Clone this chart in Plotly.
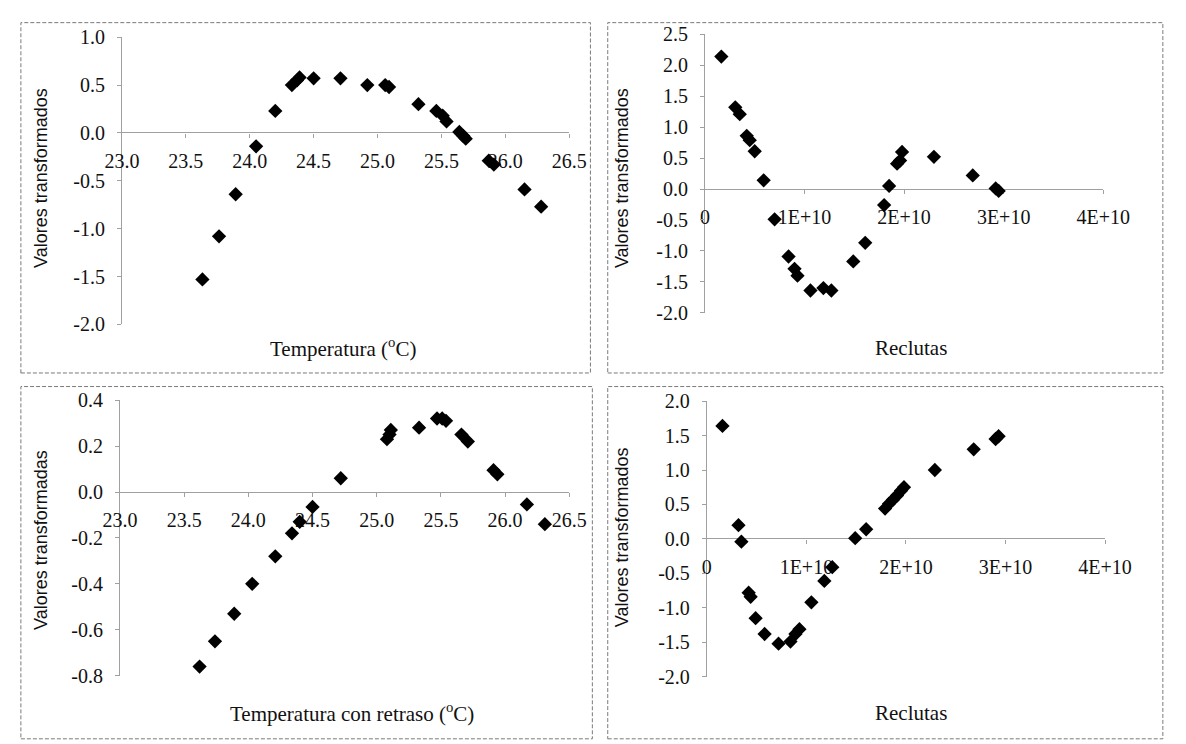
import plotly.graph_objects as go

W, H = 1186, 744

# ---------------- data ----------------
temp_tl = [23.63, 23.76, 23.89, 24.05, 24.20, 24.33, 24.37, 24.39, 24.50, 24.71, 24.92, 25.06,
           25.09, 25.32, 25.46, 25.51, 25.54, 25.64, 25.67, 25.69, 25.87, 25.91, 26.15, 26.28]
val_tl = [-1.53, -1.08, -0.64, -0.14, 0.23, 0.50, 0.55, 0.58, 0.57, 0.57, 0.50, 0.50,
          0.48, 0.30, 0.23, 0.18, 0.12, 0.01, -0.03, -0.06, -0.29, -0.33, -0.59, -0.77]

temp_bl = [23.62, 23.74, 23.89, 24.03, 24.21, 24.34, 24.40, 24.50, 24.72, 25.08, 25.10,
           25.11, 25.33, 25.47, 25.51, 25.54, 25.66, 25.71, 25.91, 25.94, 26.17, 26.31]
val_bl = [-0.76, -0.65, -0.53, -0.40, -0.28, -0.18, -0.13, -0.065, 0.06, 0.23, 0.25,
          0.27, 0.28, 0.32, 0.32, 0.31, 0.25, 0.22, 0.095, 0.077, -0.054, -0.14]

rec_tr = [0.165e10, 0.305e10, 0.35e10, 0.42e10, 0.45e10, 0.50e10, 0.59e10, 0.70e10, 0.84e10,
          0.90e10, 0.93e10, 1.06e10, 1.19e10, 1.27e10, 1.49e10, 1.61e10, 1.80e10, 1.85e10,
          1.93e10, 1.96e10, 1.98e10, 2.30e10, 2.69e10, 2.92e10, 2.95e10]
val_tr = [2.14, 1.32, 1.21, 0.86, 0.79, 0.61, 0.14, -0.49, -1.09, -1.29, -1.40, -1.64, -1.60,
          -1.64, -1.17, -0.87, -0.26, 0.05, 0.41, 0.46, 0.60, 0.52, 0.22, 0.01, -0.03]

rec_br = [0.157e10, 0.318e10, 0.347e10, 0.42e10, 0.44e10, 0.49e10, 0.58e10, 0.72e10, 0.84e10,
          0.89e10, 0.93e10, 1.05e10, 1.18e10, 1.26e10, 1.49e10, 1.60e10, 1.79e10, 1.83e10,
          1.87e10, 1.91e10, 1.95e10, 1.98e10, 2.29e10, 2.68e10, 2.90e10, 2.93e10]
val_br = [1.64, 0.20, -0.04, -0.78, -0.84, -1.15, -1.38, -1.52, -1.49, -1.38, -1.31, -0.92,
          -0.61, -0.41, 0.01, 0.14, 0.44, 0.51, 0.57, 0.63, 0.70, 0.75, 1.00, 1.30, 1.45, 1.49]

temp_ticks = [23.0, 23.5, 24.0, 24.5, 25.0, 25.5, 26.0, 26.5]
temp_ticktext = ["23.0", "23.5", "24.0", "24.5", "25.0", "25.5", "26.0", "26.5"]
rec_ticks = [0, 1e10, 2e10, 3e10, 4e10]
rec_ticktext = ["0", "1E+10", "2E+10", "3E+10", "4E+10"]

y_tl_ticks = [1.0, 0.5, 0.0, -0.5, -1.0, -1.5, -2.0]
y_tl_text = ["1.0", "0.5", "0.0", "-0.5", "-1.0", "-1.5", "-2.0"]
y_tr_ticks = [2.5, 2.0, 1.5, 1.0, 0.5, 0.0, -0.5, -1.0, -1.5, -2.0]
y_tr_text = ["2.5", "2.0", "1.5", "1.0", "0.5", "0.0", "-0.5", "-1.0", "-1.5", "-2.0"]
y_bl_ticks = [0.4, 0.2, 0.0, -0.2, -0.4, -0.6, -0.8]
y_bl_text = ["0.4", "0.2", "0.0", "-0.2", "-0.4", "-0.6", "-0.8"]
y_br_ticks = [2.0, 1.5, 1.0, 0.5, 0.0, -0.5, -1.0, -1.5, -2.0]
y_br_text = ["2.0", "1.5", "1.0", "0.5", "0.0", "-0.5", "-1.0", "-1.5", "-2.0"]

ylabel_a = "Valores transformados"
ylabel_b = "Valores transformadas"
xlabel_tl = "Temperatura (<sup>o</sup>C)"
xlabel_bl = "Temperatura con retraso (<sup>o</sup>C)"
xlabel_r = "Reclutas"

# ---------------- layout geometry (pixels) ----------------
def fx(p):
    return p / W

def fy(p):
    return 1 - p / H

SERIF = "Liberation Serif"
SANS = "Liberation Sans"
TICKFONT = dict(family=SERIF, size=20, color="#111")
AXCOL = "#a0a0a0"

panels = [
    dict(ax="", x=temp_tl, y=val_tl, xr=[23.0, 26.5], yr=[-2.0, 1.0],
         xpx=(108, 573), ypx=(27, 323), xt=(temp_ticks, temp_ticktext),
         yt=(y_tl_ticks, y_tl_text)),
    dict(ax="2", x=rec_tr, y=val_tr, xr=[0, 4e10], yr=[-2.0, 2.5],
         xpx=(714, 1128), ypx=(24, 311), xt=(rec_ticks, rec_ticktext),
         yt=(y_tr_ticks, y_tr_text)),
    dict(ax="3", x=temp_bl, y=val_bl, xr=[23.0, 26.5], yr=[-0.8, 0.4],
         xpx=(106, 573), ypx=(401, 685), xt=(temp_ticks, temp_ticktext),
         yt=(y_bl_ticks, y_bl_text)),
    dict(ax="4", x=rec_br, y=val_br, xr=[0, 4e10], yr=[-2.0, 2.0],
         xpx=(716, 1130), ypx=(402, 686), xt=(rec_ticks, rec_ticktext),
         yt=(y_br_ticks, y_br_text)),
]

fig = go.Figure()
layout = {}
for p in panels:
    a = p["ax"]
    fig.add_trace(go.Scatter(
        x=p["x"], y=p["y"], mode="markers",
        marker=dict(symbol="diamond", size=11, color="#000"),
        xaxis="x" + a, yaxis="y" + a, showlegend=False, hoverinfo="x+y"))
    top, bot = p["ypx"]
    ylo, yhi = p["yr"]
    zero_px = top + (yhi - 0.0) / (yhi - ylo) * (bot - top)
    layout["xaxis" + a] = dict(
        domain=[fx(p["xpx"][0]), fx(p["xpx"][1])], range=p["xr"],
        anchor="free", position=fy(zero_px), showgrid=False, zeroline=False,
        showline=False, tickmode="array", tickvals=p["xt"][0], ticktext=p["xt"][1],
        ticks="outside", ticklen=4, tickcolor=AXCOL, tickfont=TICKFONT,
        ticklabelstandoff=6, layer="below traces", fixedrange=True)
    layout["yaxis" + a] = dict(
        domain=[fy(bot), fy(top)], range=p["yr"], anchor="x" + a,
        showgrid=False, zeroline=True, zerolinecolor=AXCOL, zerolinewidth=1,
        showline=True, linecolor=AXCOL, linewidth=1, mirror=False,
        tickmode="array", tickvals=p["yt"][0], ticktext=p["yt"][1],
        ticks="outside", ticklen=4, tickcolor=AXCOL, tickfont=TICKFONT,
        ticklabelstandoff=8, layer="below traces", fixedrange=True)

annotations = [
    dict(text=ylabel_a, x=fx(24), y=fy(172), textangle=-90),
    dict(text=ylabel_a, x=fx(628), y=fy(172), textangle=-90),
    dict(text=ylabel_b, x=fx(24), y=fy(545), textangle=-90),
    dict(text=ylabel_a, x=fx(628), y=fy(542), textangle=-90),
]
for an in annotations:
    an.update(xref="paper", yref="paper", showarrow=False,
              font=dict(family=SANS, size=18, color="#111"),
              xanchor="center", yanchor="middle")

for text, x, y in [(xlabel_tl, 338, 347), (xlabel_bl, 347, 723),
                   (xlabel_r, 928, 347), (xlabel_r, 928, 723)]:
    annotations.append(dict(text=text, x=fx(x), y=fy(y), xref="paper", yref="paper",
                            showarrow=False, xanchor="center", yanchor="middle",
                            font=dict(family=SERIF, size=21, color="#111")))

# panel borders (scanned dashed frames)
BORDER = dict(color="#7a7a7a", width=1, dash="4px,2px")
shapes = []
for x0, y0, x1, y1 in [(3, 12, 595, 373), (613, 12, 1190, 373),
                       (3, 387, 597, 750), (613, 387, 1190, 750)]:
    shapes.append(dict(type="rect", xref="paper", yref="paper",
                       x0=fx(x0), x1=fx(x1), y0=fy(y1), y1=fy(y0),
                       line=BORDER, fillcolor="rgba(0,0,0,0)", layer="below"))

fig.update_layout(
    width=W, height=H, margin=dict(l=0, r=0, t=0, b=0),
    paper_bgcolor="white", plot_bgcolor="white",
    annotations=annotations, shapes=shapes, **layout)

fig.write_html("out.html", include_plotlyjs=True, config={"displayModeBar": False})
